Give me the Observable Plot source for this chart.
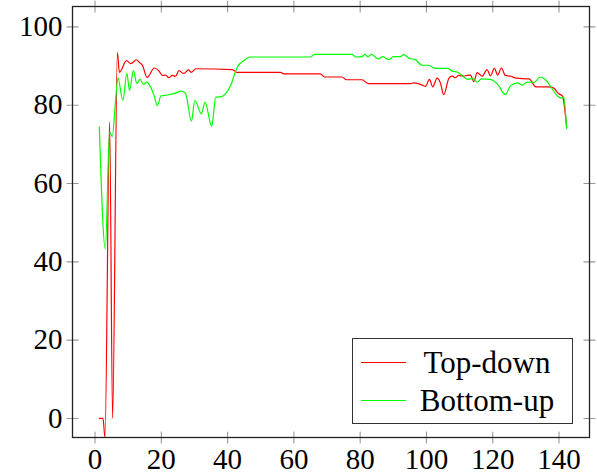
<!DOCTYPE html>
<html><head><meta charset="utf-8">
<script src="https://cdn.jsdelivr.net/npm/d3@7"></script>
<script src="https://cdn.jsdelivr.net/npm/@observablehq/plot@0.6"></script>
<style>
body{margin:0;background:#fff;}
#wrap{position:relative;width:597px;height:475px;}
#legend{position:absolute;left:352px;top:338px;width:219px;height:84px;border:1.3px solid #333;background:#fff;font-family:'Liberation Serif',serif;font-size:31px;color:#000;}
#legend .row{position:absolute;left:0;width:219px;height:36px;}
#legend .sw{position:absolute;left:8px;width:45px;top:17px;height:1.3px;}
#legend .lab{position:absolute;left:60px;width:148px;text-align:center;top:0;line-height:36px;}
</style>
</head><body><div id="wrap"></div><script>
const seriesNames = ["Top-down", "Bottom-up"];
const seriesColors = ["#ff0000", "#00ff00"];

const topDownX = [1.3, 2.4, 3.0, 4.4, 5.3, 6.75, 7.35, 9.5, 10.8, 12.5, 13.5, 14.3, 15.7, 17.9, 19.4, 20.3, 21.3, 22.3, 23.3, 24.3, 25.3, 26.8, 28.2, 29.0, 30.4, 41.4, 42.8, 56.0, 56.9, 68.0, 69.2, 74.6, 75.8, 80.6, 82.4, 95.2, 96.2, 98.2, 99.7, 100.9, 101.9, 103.2, 104.2, 105.2, 106.8, 107.8, 108.7, 109.7, 111.2, 112.3, 113.3, 114.3, 115.3, 116.8, 118.3, 119.3, 120.5, 121.5, 122.6, 123.8, 125.5, 127.0, 131.0, 133.0, 137.0, 138.4, 139.9, 141.0, 142.3];
const topDownY = [0, 0, -4.9, 75.7, 0, 93.4, 88.4, 91.4, 90.6, 91.6, 90.8, 90.2, 87.1, 89.5, 88.6, 87.6, 87.7, 87.0, 87.6, 87.4, 88.8, 88.1, 89.0, 88.4, 89.3, 89.1, 88.4, 88.4, 88.0, 88.0, 87.2, 87.2, 86.5, 86.5, 85.5, 85.5, 85.7, 85.3, 84.8, 86.6, 84.7, 86.9, 85.7, 82.7, 86.9, 87.4, 87.0, 87.6, 87.4, 87.6, 87.7, 86.0, 88.3, 87.4, 89.1, 87.5, 89.4, 87.7, 89.5, 87.6, 87.4, 86.9, 86.7, 84.7, 84.7, 84.4, 82.9, 82.4, 74.4];

const bottomUpX = [1.3, 3.1, 4.4, 5.2, 6.2, 6.9, 8.4, 9.6, 10.4, 11.6, 12.6, 13.6, 14.6, 15.6, 16.8, 17.8, 18.8, 19.9, 21.8, 24.0, 26.0, 27.3, 29.1, 30.1, 32.1, 33.2, 35.2, 36.4, 38.2, 40.9, 42.9, 44.9, 46.8, 65.0, 66.2, 77.6, 78.6, 80.6, 81.5, 82.3, 83.4, 85.4, 86.8, 88.6, 90.1, 92.2, 93.0, 95.0, 96.5, 98.7, 100.7, 102.5, 106.5, 107.7, 109.5, 110.8, 112.4, 113.9, 115.4, 116.5, 119.3, 121.5, 123.8, 125.4, 127.5, 128.9, 130.4, 132.5, 134.3, 135.9, 137.7, 139.7, 140.9, 141.4, 142.3];
const bottomUpY = [74.4, 43.3, 73.1, 72.0, 81.2, 87.0, 81.2, 88.1, 83.8, 88.8, 85.5, 86.6, 85.3, 85.9, 84.6, 82.5, 79.9, 82.4, 82.6, 83.0, 83.6, 83.0, 75.9, 81.2, 77.8, 80.8, 74.6, 82.0, 82.2, 85.0, 89.7, 91.4, 92.3, 92.3, 93.0, 93.0, 92.3, 92.4, 93.0, 92.3, 93.0, 91.8, 92.4, 91.6, 92.4, 92.4, 92.9, 91.9, 91.7, 90.2, 90.2, 89.4, 89.4, 88.7, 88.4, 87.5, 86.6, 86.8, 85.9, 86.7, 86.6, 85.3, 82.7, 85.0, 85.7, 85.1, 85.9, 85.8, 87.2, 86.5, 84.5, 82.2, 81.8, 82.2, 74.0];

const xTicks = [0, 20, 40, 60, 80, 100, 120, 140];
const yTicks = [0, 20, 40, 60, 80, 100];

const topDown = topDownX.map((x, i) => ({x, y: topDownY[i]}));
const bottomUp = bottomUpX.map((x, i) => ({x, y: bottomUpY[i]}));

const tickShape = {draw(ctx, l) { ctx.moveTo(0, 0); ctx.lineTo(0, -l); }};
const tickOpts = {length: 11, shape: tickShape, stroke: "#999", strokeWidth: 1.1};

const chart = Plot.plot({
  width: 597, height: 475,
  marginLeft: 72, marginRight: 8, marginTop: 6, marginBottom: 38,
  x: {domain: [-6.8, 149.2]},
  y: {domain: [-4.86, 105.2]},
  style: {fontFamily: "'Liberation Serif', serif", fontSize: "29px", color: "#000", background: "#fff"},
  marks: [
    Plot.vector(xTicks, {x: d => d, frameAnchor: "bottom", rotate: 0, ...tickOpts}),
    Plot.vector(xTicks, {x: d => d, frameAnchor: "top", rotate: 180, ...tickOpts}),
    Plot.vector(yTicks, {y: d => d, frameAnchor: "left", rotate: 90, ...tickOpts}),
    Plot.vector(yTicks, {y: d => d, frameAnchor: "right", rotate: -90, ...tickOpts}),
    Plot.line(topDown, {x: "x", y: "y", stroke: seriesColors[0], strokeWidth: 1.2, curve: "monotone-x"}),
    Plot.line(bottomUp, {x: "x", y: "y", stroke: seriesColors[1], strokeWidth: 1.2, curve: "monotone-x"}),
    Plot.frame({stroke: "#222", strokeWidth: 1.3}),
    Plot.axisX(xTicks, {tickSize: 0, tickPadding: 11, fontSize: 29, label: null}),
    Plot.axisY(yTicks, {tickSize: 0, tickPadding: 10, fontSize: 29, label: null})
  ]
});
const wrap = document.getElementById("wrap");
wrap.appendChild(chart);

const legend = document.createElement("div");
legend.id = "legend";
seriesNames.forEach((name, i) => {
  const row = document.createElement("div");
  row.className = "row";
  row.style.top = (6 + i * 38) + "px";
  const sw = document.createElement("div");
  sw.className = "sw";
  sw.style.background = seriesColors[i];
  const lab = document.createElement("div");
  lab.className = "lab";
  lab.textContent = name;
  row.appendChild(sw); row.appendChild(lab);
  legend.appendChild(row);
});
wrap.appendChild(legend);
</script></body></html>
